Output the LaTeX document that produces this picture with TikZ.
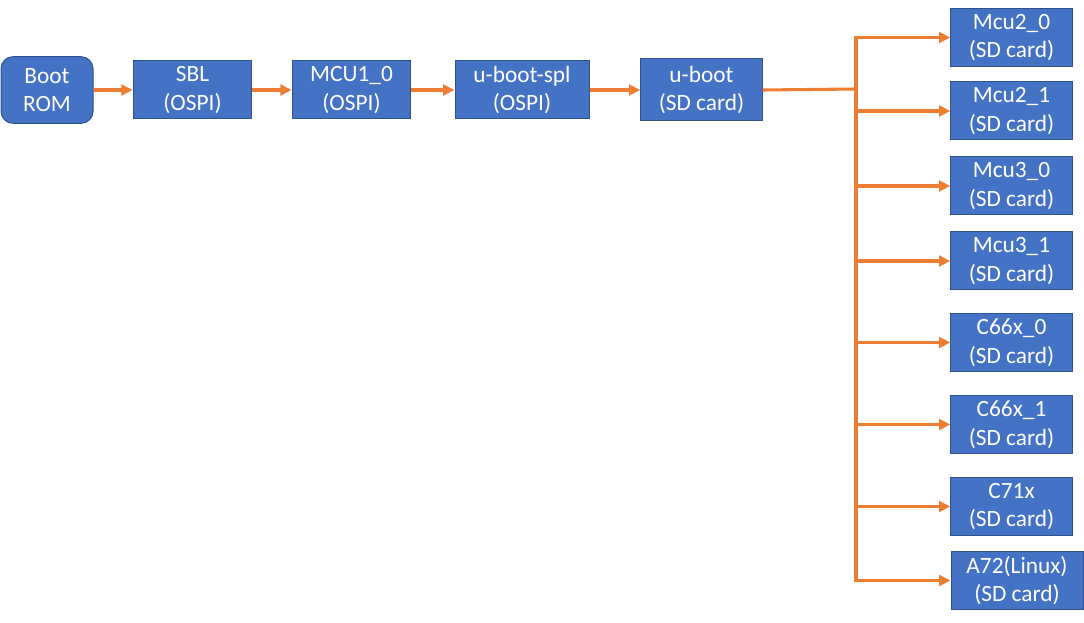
\documentclass[tikz,border=0pt]{standalone}
\usepackage{fontspec}
\setmainfont{Carlito}
\usetikzlibrary{positioning,arrows.meta}
\definecolor{boxblue}{HTML}{4472C4}
\definecolor{boxedge}{HTML}{2F528F}
\definecolor{floworange}{HTML}{ED7D31}
\tikzset{
  blk/.style={draw=boxedge,fill=boxblue,text=white,align=center,inner sep=0pt,
    line width=0.75pt,minimum width=91pt,minimum height=43.5pt,
    font=\fontsize{17.5}{21.5}\selectfont},
  flow/.style={draw=floworange,line width=2.3pt},
  flowarr/.style={flow,-{Triangle[length=8.5pt,width=8pt]}},
}

\begin{document}
\begin{tikzpicture}[x=0.75pt,y=-0.75pt]
\useasboundingbox (0,0) rectangle (1084,623);
% boot chain
\draw(47,90) node[blk,rounded corners=9pt,minimum width=69pt,minimum height=50pt] (boot) {Boot\\ROM};
\draw(192.5,90) node[blk,minimum width=89pt] (sbl) {SBL\\(OSPI)};
\draw(351.5,90) node[blk,minimum width=89pt] (mcu10) {MCU1\_0\\(OSPI)};
\draw(522,90) node[blk,minimum width=100.5pt] (spl) {u-boot-spl\\(OSPI)};
\draw(701.5,90) node[blk,minimum height=46.5pt] (uboot) {u-boot\\(SD card)};
\draw[flowarr] (boot) -- (sbl);
\draw[flowarr] (sbl) -- (mcu10);
\draw[flowarr] (mcu10) -- (spl);
\draw[flowarr] (spl) -- (uboot);
% cores loaded by u-boot
\draw(1011.5,37.5) node[blk] (m20) {Mcu2\_0\\(SD card)};
\draw(1011.5,111) node[blk] (m21) {Mcu2\_1\\(SD card)};
\draw(1011.5,186) node[blk] (m30) {Mcu3\_0\\(SD card)};
\draw(1011.5,261) node[blk] (m31) {Mcu3\_1\\(SD card)};
\draw(1011.5,342.5) node[blk] (c0) {C66x\_0\\(SD card)};
\draw(1011.5,424.5) node[blk] (c1) {C66x\_1\\(SD card)};
\draw(1011.5,506.5) node[blk] (c71) {C71x\\(SD card)};
\draw(1017,580.5) node[blk,minimum width=99pt] (a72) {A72(Linux)\\(SD card)};
\coordinate (br) at (856,89);
\draw[flow] (uboot.east) -- (br);
\draw[flowarr] (br) |- (m20.west);
\draw[flowarr] (br) |- (a72.west);
\draw[flowarr] (m21.west -| br) -- (m21.west);
\draw[flowarr] (m30.west -| br) -- (m30.west);
\draw[flowarr] (m31.west -| br) -- (m31.west);
\draw[flowarr] (c0.west -| br) -- (c0.west);
\draw[flowarr] (c1.west -| br) -- (c1.west);
\draw[flowarr] (c71.west -| br) -- (c71.west);
\end{tikzpicture}
\end{document}
